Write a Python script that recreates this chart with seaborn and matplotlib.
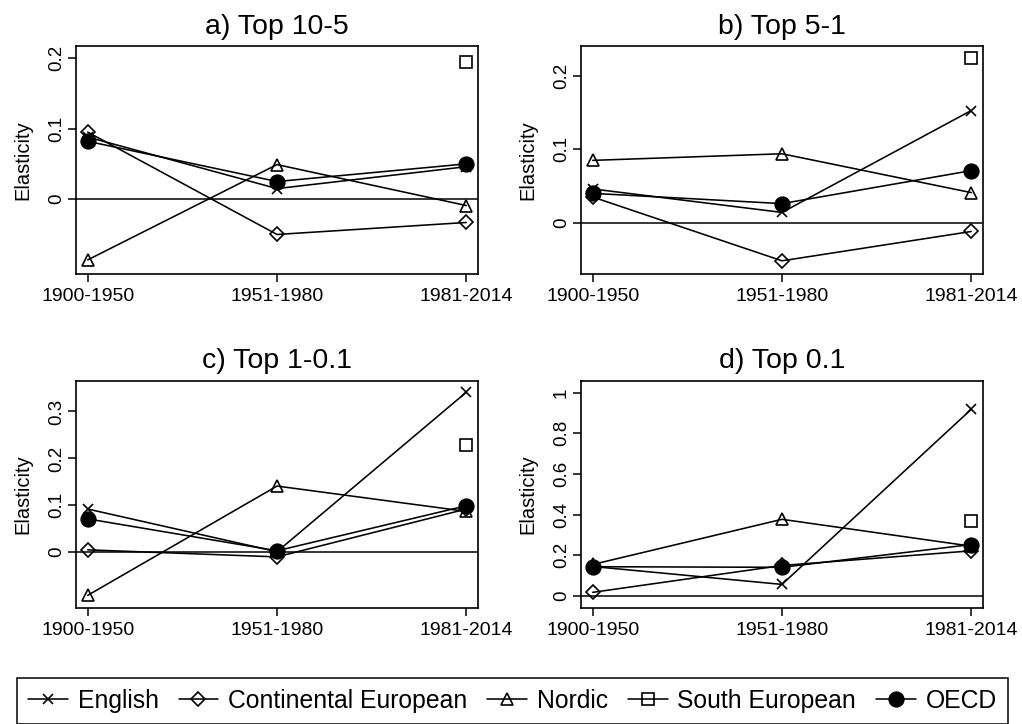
import numpy as np
import pandas as pd
import matplotlib.pyplot as plt
import seaborn as sns

# periodes et panneaux
periods = ["1900-1950", "1951-1980", "1981-2014"]
panel_titles = ["a) Top 10-5", "b) Top 5-1", "c) Top 1-0.1", "d) Top 0.1"]
groups = ["English", "Continental European", "Nordic", "South European", "OECD"]

# valeurs (une liste par panneau a, b, c, d)
english_vals = [[0.088, 0.015, 0.046], [0.046, 0.014, 0.153],
                [0.092, 0.001, 0.341], [0.145, 0.057, 0.918]]
continental_vals = [[0.095, -0.050, -0.033], [0.035, -0.052, -0.012],
                    [0.005, -0.010, 0.092], [0.018, 0.150, 0.222]]
nordic_vals = [[-0.086, 0.049, -0.009], [0.085, 0.094, 0.041],
               [-0.092, 0.141, 0.087], [0.155, 0.377, 0.245]]
south_vals = [[np.nan, np.nan, 0.195], [np.nan, np.nan, 0.224],
              [np.nan, np.nan, 0.228], [np.nan, np.nan, 0.369]]
oecd_vals = [[0.082, 0.025, 0.050], [0.040, 0.026, 0.071],
             [0.071, 0.003, 0.099], [0.144, 0.141, 0.253]]

y_ticks = [[0, 0.1, 0.2], [0, 0.1, 0.2], [0, 0.1, 0.2, 0.3],
           [0, 0.2, 0.4, 0.6, 0.8, 1]]
y_ticklabels = [["0", "0.1", "0.2"], ["0", "0.1", "0.2"], ["0", "0.1", "0.2", "0.3"],
                ["0", "0.2", "0.4", "0.6", "0.8", "1"]]
y_limits = [(-0.106, 0.217), (-0.070, 0.241), (-0.119, 0.365), (-0.059, 1.057)]

all_vals = [english_vals, continental_vals, nordic_vals, south_vals, oecd_vals]

# style des marqueurs
styles = {
    "English": dict(marker="x", markersize=6.5, markerfacecolor="black"),
    "Continental European": dict(marker="D", markersize=7, markerfacecolor="none"),
    "Nordic": dict(marker="^", markersize=9, markerfacecolor="none"),
    "South European": dict(marker="s", markersize=8.5, markerfacecolor="none"),
    "OECD": dict(marker="o", markersize=10.5, markerfacecolor="black"),
}

sns.set_theme(style="ticks", rc={"text.color": "black", "axes.labelcolor": "black",
                                 "xtick.color": "black", "ytick.color": "black",
                                 "axes.edgecolor": "black"})
plt.rcParams['font.family'] = ['Liberation Sans', 'DejaVu Sans']

fig = plt.figure(figsize=(10.22, 7.24), dpi=100)
W, H = 1022, 724
# positions des axes en pixels (gauche, haut, droite, bas)
boxes = [(76, 46, 478, 274), (581, 46, 983, 274),
         (76, 381, 478, 608), (581, 381, 983, 608)]

axes = []
for i, (l, t, r, b) in enumerate(boxes):
    ax = fig.add_axes([l / W, 1 - b / H, (r - l) / W, (b - t) / H])
    ax.axhline(0, color="black", linewidth=1.1, zorder=1)
    for g, vals in zip(groups, all_vals):
        df = pd.DataFrame({"period": periods, "value": vals[i]})
        sns.lineplot(data=df, x="period", y="value", ax=ax, color="black",
                     linewidth=1.15, markeredgecolor="black", markeredgewidth=1.2,
                     errorbar=None, label=g, legend=False, **styles[g])
    ax.set_xlim(-0.062, 2.062)
    ax.set_ylim(*y_limits[i])
    ax.set_yticks(y_ticks[i])
    ax.set_yticklabels(y_ticklabels[i], rotation=90, va="center")
    ax.set_xlabel("")
    ax.set_ylabel("Elasticity", fontsize=14.5, labelpad=11)
    ax.set_title(panel_titles[i], fontsize=20.5, pad=9, color="black")
    ax.tick_params(axis="x", direction="out", length=6, width=1.1, pad=4,
                   labelsize=14, color="black", labelcolor="black")
    ax.tick_params(axis="y", direction="out", length=6, width=1.1, pad=2,
                   labelsize=13.5, color="black", labelcolor="black")
    for sp in ax.spines.values():
        sp.set_linewidth(1.2)
        sp.set_color("black")
    ax.grid(False)
    axes.append(ax)

handles, labels = axes[0].get_legend_handles_labels()
leg = fig.legend(handles, labels, loc="upper left",
                 bbox_to_anchor=(17 / W, 1 - 678 / H, 991 / W, 0), mode="expand",
                 ncol=5, fontsize=17.8, frameon=True, fancybox=False,
                 edgecolor="black", framealpha=1, handlelength=1.6,
                 handletextpad=0.4, columnspacing=1.0, borderpad=0.45,
                 borderaxespad=0, numpoints=1, labelcolor="black")
leg.get_frame().set_linewidth(1.1)

fig.savefig("out.png", dpi=100)
